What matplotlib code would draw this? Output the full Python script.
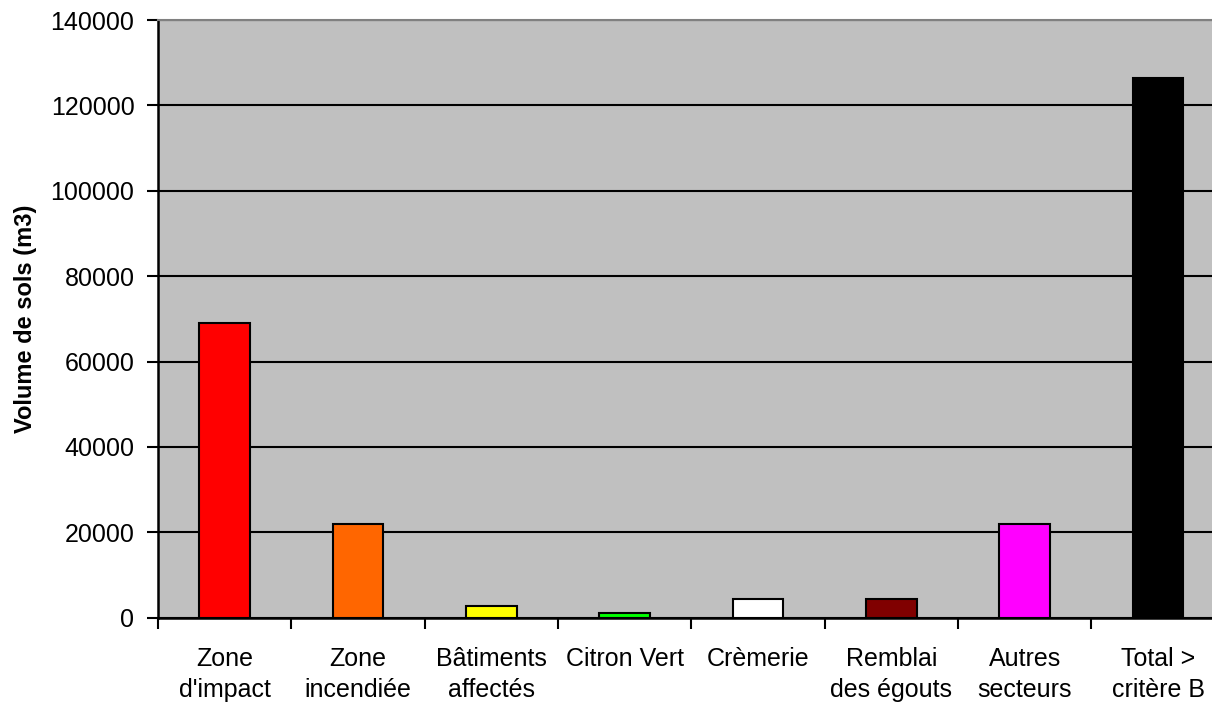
import matplotlib
matplotlib.use("Agg")
import matplotlib.pyplot as plt
import numpy as np

categories = ["Zone\nd'impact", "Zone\nincendiée", "Bâtiments\naffectés", "Citron Vert",
              "Crèmerie", "Remblai\ndes égouts", "Autres\nsecteurs", "Total >\ncritère B"]
values = [69000, 22000, 2800, 1200, 4400, 4400, 22000, 126500]
colors = ["#FF0000", "#FF6600", "#FFFF00", "#00FF00", "#FFFFFF", "#800000", "#FF00FF", "#000000"]
yticks = [0, 20000, 40000, 60000, 80000, 100000, 120000, 140000]

plt.rcParams['font.family'] = ['Liberation Sans', 'DejaVu Sans']

fig = plt.figure(figsize=(12.12, 7.04), dpi=100)
ax = fig.add_axes([158/1212, (704-617.7)/704, 1066.7/1212, (617.7-20)/704])
ax.set_facecolor("#C0C0C0")

x = np.arange(len(categories))
ax.bar(x, values, width=0.38, color=colors, edgecolor="black", linewidth=1.5, zorder=3)

ax.set_xlim(-0.5, len(categories) - 0.5)
ax.set_ylim(0, 140000)
ax.set_yticks(yticks)
ax.set_yticklabels([str(v) for v in yticks], fontsize=18)
ax.yaxis.grid(True, color="black", linewidth=1.5, zorder=1)
ax.set_axisbelow(True)

ax.set_xticks(x)
ax.set_xticklabels(categories, fontsize=18, linespacing=1.4)
ax.tick_params(axis='x', which='major', length=0, pad=21)
ax.set_xticks(np.arange(-0.5, len(categories) + 0.5, 1), minor=True)
ax.tick_params(axis='x', which='minor', length=8, width=1.5, direction='out')
ax.tick_params(axis='y', length=8, width=1.5, direction='out', pad=9)

for s in ['left', 'bottom']:
    ax.spines[s].set_color('black')
    ax.spines[s].set_linewidth(1.8)
ax.spines['top'].set_color('#808080')
ax.spines['top'].set_linewidth(1.5)
ax.spines['right'].set_color('#808080')

ax.set_ylabel("Volume de sols (m3)", fontsize=17, fontweight='bold', labelpad=10)

fig.savefig("out.png", dpi=100)
